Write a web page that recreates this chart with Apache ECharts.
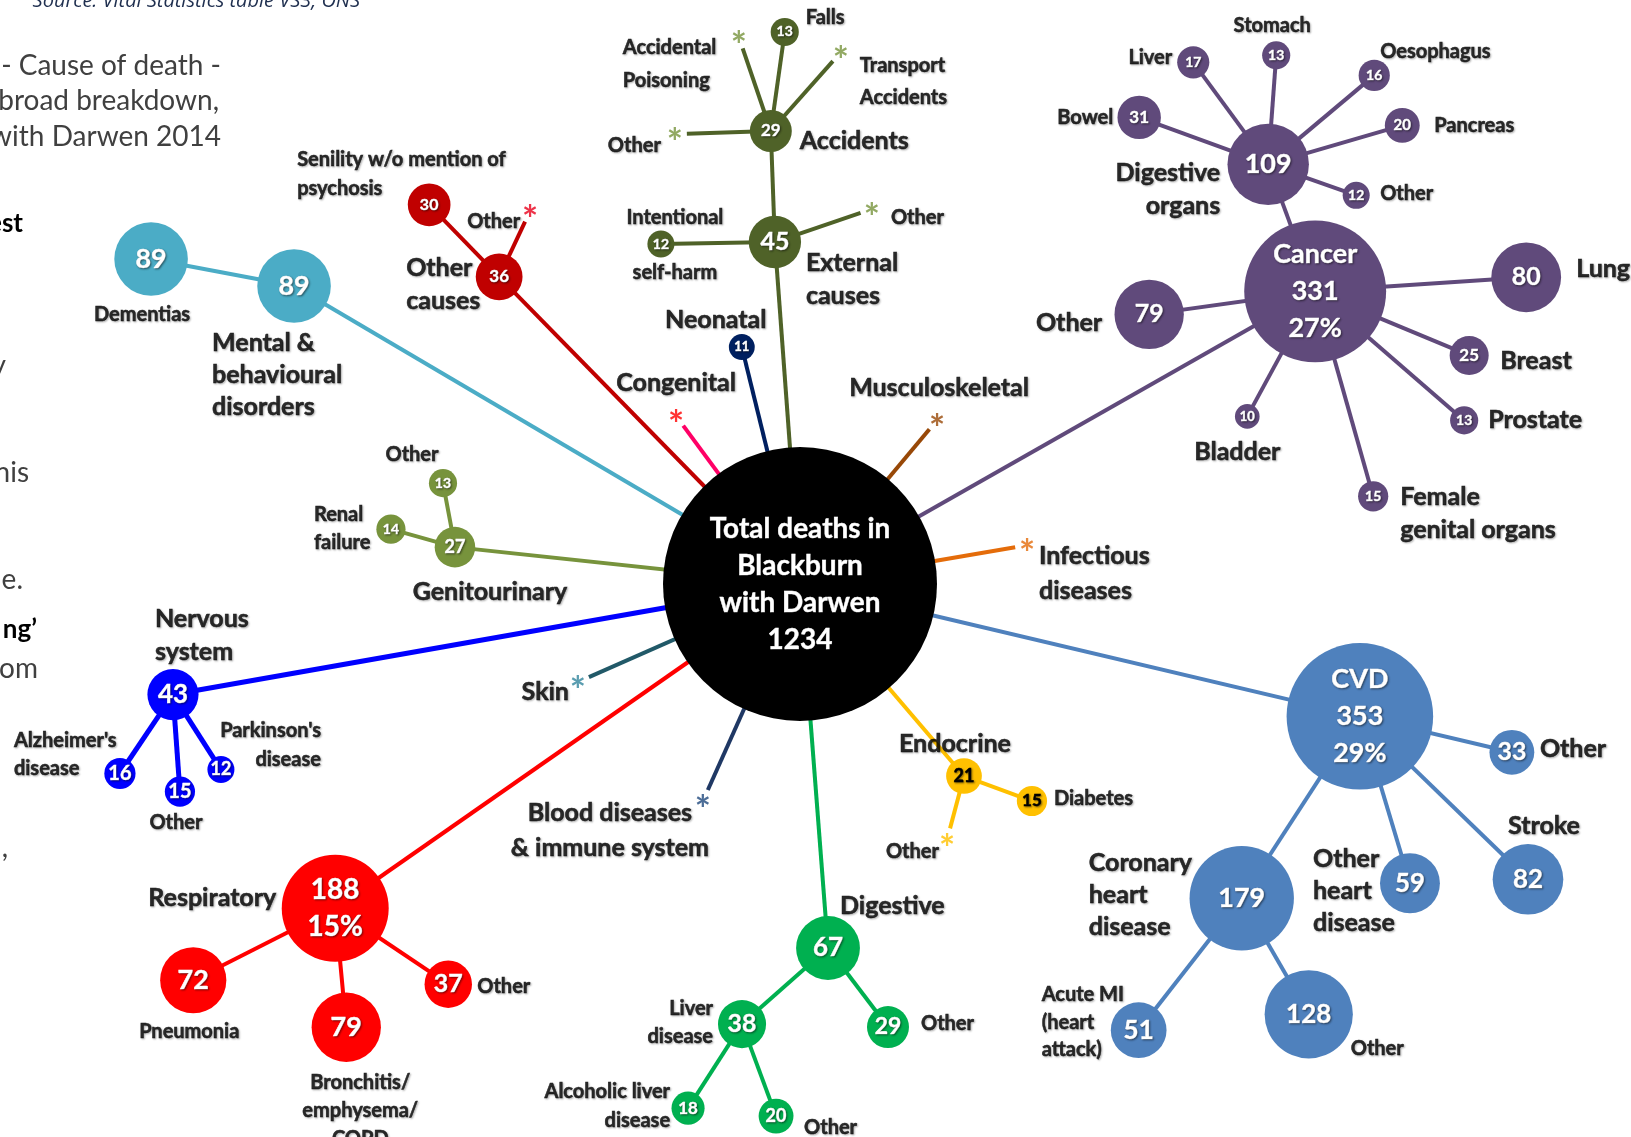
<!DOCTYPE html>
<html><head><meta charset="utf-8">
<script src="https://cdn.jsdelivr.net/npm/echarts@6/dist/echarts.min.js"></script>
<style>html,body{margin:0;padding:0;background:#fff}#c{width:1631px;height:1137px}</style>
</head><body><div id="c"></div>
<script>
// ---------------- DATA ----------------
const nodeIds = ['total','cancer','cDig','cBowel','cLiver','cStomach','cOeso','cPanc','cDigOther','cLung','cOther','cBreast','cProstate','cFemale','cBladder',
  'cvd','cvdOther','stroke','otherHeart','chd','ami','chdOther',
  'resp','pneu','bronch','respOther',
  'dig','liverDis','digOther','alc','liverOther',
  'endo','diabetes','endoOther',
  'nerv','alz','nervOther','park',
  'genito','renal','genOther',
  'mental','dementia',
  'othCauses','senility','othCausesOther',
  'ext','selfHarm','extOther','accidents','accOther','accPoison','falls','transport',
  'neonatal','congenital','musculo','infectious','skin','blood'];
const nodeNames = ['Total deaths in\nBlackburn\nwith Darwen','Cancer','Digestive\norgans','Bowel','Liver','Stomach','Oesophagus','Pancreas','Other','Lung','Other','Breast','Prostate','Female\ngenital organs','Bladder',
  'CVD','Other','Stroke','Other\nheart\ndisease','Coronary\nheart\ndisease','Acute MI\n(heart\nattack)','Other',
  'Respiratory','Pneumonia','Bronchitis/\nemphysema/\nCOPD','Other',
  'Digestive','Liver\ndisease','Other','Alcoholic liver\ndisease','Other',
  'Endocrine','Diabetes','Other',
  'Nervous\nsystem',"Alzheimer's\ndisease",'Other',"Parkinson's\ndisease",
  'Genitourinary','Renal\nfailure','Other',
  'Mental &\nbehavioural\ndisorders','Dementias',
  'Other\ncauses','Senility w/o mention of\npsychosis','Other',
  'External\ncauses','Intentional\nself-harm','Other','Accidents','Other','Accidental\nPoisoning','Falls','Transport\nAccidents',
  'Neonatal','Congenital','Musculoskeletal','Infectious\ndiseases','Skin','Blood diseases\n& immune system'];
// null = suppressed small number (shown as *)
const nodeValues = [1234,331,109,31,17,13,16,20,12,80,79,25,13,15,10,
  353,33,82,59,179,51,128,
  188,72,79,37,
  67,38,29,18,20,
  21,15,null,
  43,16,15,12,
  27,14,13,
  89,89,
  36,30,null,
  45,12,null,29,null,null,13,null,
  11,null,null,null,null,null];
const nodeParents = [null,'total','cancer','cDig','cDig','cDig','cDig','cDig','cDig','cancer','cancer','cancer','cancer','cancer','cancer',
  'total','cvd','cvd','cvd','cvd','chd','chd',
  'total','resp','resp','resp',
  'total','dig','dig','liverDis','liverDis',
  'total','endo','endo',
  'total','nerv','nerv','nerv',
  'total','genito','genito',
  'total','mental',
  'total','othCauses','othCauses',
  'total','ext','ext','ext','accidents','accidents','accidents','accidents',
  'total','total','total','total','total','total'];
const nameInside = ['total','cancer','cvd'];
const pctShown = ['cancer','cvd','resp'];

// ---------------- LAYOUT / STYLE ----------------
const W = 1631, H = 1137;
const origin = [800, 584];
const SIZE_K = 7.8; // symbol diameter = SIZE_K * sqrt(value)
const BIG = 25, SMALL = 20;
// id: [angle from parent (deg), distance (px), labelDx, labelDy, align, nameFont, valueFont, lineHeight]
const layout = {
  total:[0,0,0,0,'center',0,28,37],
  cancer:[29.6,592.5,0,0,'center',0,27,37],
  cDig:[110.3,135.4,-48,25,'right',BIG,27,33],
  cBowel:[160.0,137.3,-26,0,'right',SMALL,17],
  cLiver:[126.3,126.6,-21,-5,'right',SMALL,14],
  cStomach:[85.8,109.3,-4,-30,'center',SMALL,14],
  cOeso:[40.0,138.4,6,-24,'left',SMALL,14],
  cPanc:[16.2,139.6,32,0,'left',SMALL,15],
  cDigOther:[-19.4,93.3,24,-2,'left',SMALL,14],
  cLung:[3.8,211.5,50,-8,'left',BIG,25],
  cOther:[-172.1,167.6,-47,9,'right',BIG,25],
  cBreast:[-22.6,166.8,31,5,'left',BIG,17],
  cProstate:[-40.9,197.1,24,0,'left',BIG,14],
  cFemale:[-74.2,213.0,27,17,'left',BIG,14,33],
  cBladder:[-118.5,142.3,-10,36,'center',BIG,13],
  cvd:[-13.3,575.3,0,0,'center',0,27,37],
  cvdOther:[-13.3,156.2,28,-3,'left',BIG,25],
  stroke:[-44.1,234.1,16,-53,'center',BIG,26],
  otherHeart:[-73.3,174.3,-97,8,'left',BIG,26,32],
  chd:[-123.0,216.9,-153,-3,'left',BIG,27,32],
  ami:[-128.0,167.4,-97,-8,'left',SMALL,26,27.5],
  chdOther:[-60.0,134.0,42,34,'left',SMALL,26],
  resp:[-145.1,566.7,-59,-10,'right',BIG,28,37],
  pneu:[-153.1,159.2,-4,51,'center',SMALL,27],
  bronch:[-84.7,119.5,14,83,'center',SMALL,27,28],
  respOther:[-33.9,136.2,29,2,'left',SMALL,25],
  dig:[-85.6,365.1,12,-42,'left',BIG,26],
  liverDis:[-138.5,114.8,-29,-2,'right',SMALL,25,28],
  digOther:[-52.8,99.2,33,-3,'left',SMALL,23],
  alc:[-122.7,99.9,-18,-2,'right',SMALL,17,29],
  liverOther:[-69.7,98.1,28,11,'left',SMALL,18],
  endo:[-49.5,252.5,-9,-32,'center',BIG,18],
  diabetes:[-20.2,72.4,22,-2,'left',SMALL,17],
  endoOther:[-104.9,66.2,-8,12,'right',SMALL],
  nerv:[-170.0,636.7,-18,-59,'left',BIG,26,33],
  alz:[-123.9,95.1,-106,-19,'left',SMALL,20,28],
  nervOther:[-85.9,97.3,-4,31,'center',SMALL,20],
  park:[-57.4,89.0,100,-24,'right',SMALL,18,29],
  genito:[173.9,347.0,35,45,'center',BIG,18],
  renal:[164.3,66.5,-77,-1,'left',SMALL,14,28],
  genOther:[100.6,65.1,-31,-29,'center',SMALL,14],
  mental:[149.5,587.2,-82,89,'left',BIG,27,32],
  dementia:[169.3,145.5,-9,56,'center',SMALL,27],
  othCauses:[134.4,430.0,-93,8,'left',BIG,17,33],
  senility:[134.2,100.4,-132,-31,'left',SMALL,16,29],
  othCausesOther:[64.8,72.9,-10,11,'right',SMALL],
  ext:[94.2,342.9,31,37,'left',BIG,25,33],
  selfHarm:[-179.0,114.0,14,1,'center',SMALL,14,55],
  extOther:[18.8,102.5,19,9,'left',SMALL],
  accidents:[92.1,111.1,29,10,'left',BIG,17],
  accOther:[-178.2,96.0,-14,12,'right',SMALL],
  accPoison:[108.8,99.3,-116,27,'left',SMALL,0,33],
  falls:[82.0,100.0,21,-14,'left',SMALL,14],
  transport:[48.4,105.5,19,29,'left',SMALL,0,32],
  neonatal:[103.8,244.0,-26,-27,'center',BIG,13],
  congenital:[126.4,208.8,0,-33,'center',BIG],
  musculo:[50.1,213.7,2,-32,'center',BIG],
  infectious:[9.7,230.3,12,28,'left',BIG,0,35],
  skin:[-156.2,242.7,-9,10,'right',BIG],
  blood:[-114.1,237.7,-93,29,'center',BIG,0,35]
};
const groupColor = {total:'#000000',cancer:'#604a7b',cvd:'#4f81bd',resp:'#ff0000',dig:'#00b050',endo:'#ffc000',nerv:'#0000ff',
  genito:'#77933c',mental:'#4bacc6',othCauses:'#c00000',ext:'#4f6228',neonatal:'#002060',congenital:'#ff0066',
  musculo:'#984807',infectious:'#e46c0a',skin:'#215968',blood:'#1f3864'};
const starColor = {othCauses:'#e8001c',ext:'#77933c',endo:'#ffc000',congenital:'#ff0000',musculo:'#984807',
  infectious:'#e46c0a',skin:'#31859c',blood:'#1f497d'};
const darkText = ['endo'];
const FONT = 'Lato, "Open Sans", sans-serif';
const STAR_GAP = 12;

// ---------------- BUILD ----------------
const idx = {}; nodeIds.forEach((id,i)=>idx[id]=i);
const pos = {total: origin};
nodeIds.forEach((id,i)=>{
  if (!nodeParents[i]) return;
  const p = pos[nodeParents[i]], L = layout[id], a = L[0]*Math.PI/180;
  pos[id] = [p[0] + L[1]*Math.cos(a), p[1] - L[1]*Math.sin(a)];
});
function topGroup(id){ let cur=id; while(nodeParents[idx[cur]] && nodeParents[idx[cur]]!=='total') cur=nodeParents[idx[cur]]; return cur; }
const total = nodeValues[0];

const edges = [], nodes = [], names = [], stars = [];
nodeIds.forEach((id,i)=>{
  const g = topGroup(id), col = groupColor[g], L = layout[id], v = nodeValues[i], P = pos[id];
  if (nodeParents[i]) {
    const p = pos[nodeParents[i]];
    let end = P;
    if (v == null) { const dx=P[0]-p[0], dy=P[1]-p[1], d=Math.hypot(dx,dy); end=[P[0]-dx/d*STAR_GAP, P[1]-dy/d*STAR_GAP]; }
    edges.push({coords:[p,end], lineStyle:{color:col, width: g==='nerv'?5:4}});
  }
  if (v != null) {
    let txt = String(v);
    if (pctShown.includes(id)) txt = txt + '\n' + Math.round(v/total*100) + '%';
    if (nameInside.includes(id)) txt = (id==='total' ? nodeNames[i]+'\n'+v : nodeNames[i]+'\n'+txt);
    const dark = darkText.includes(g);
    nodes.push({value:P, symbolSize: SIZE_K*Math.sqrt(v), itemStyle:{color:col, opacity:1},
      label:{show:true, position:'inside', formatter: txt, color: dark?'#000':'#fff',
        fontSize:L[6], fontWeight:'bold', fontFamily:FONT, lineHeight:L[7]||L[6]*1.2,
        textBorderColor: dark?'#000':'#fff', textBorderWidth:0.5,
        textShadowColor:'rgba(0,0,0,0.45)', textShadowBlur:2, textShadowOffsetX:1, textShadowOffsetY:1}});
  } else {
    stars.push({value:P, label:{show:true, position:'inside', formatter:'*', color: starColor[g]||col,
      fontSize:38, fontWeight:'bold', fontFamily:FONT, offset:[0,10]}});
  }
  if (!nameInside.includes(id)) {
    names.push({value:P, label:{show:true, position:'inside', formatter: nodeNames[i], offset:[L[2],L[3]],
      align:L[4], verticalAlign:'middle', fontSize:L[5], lineHeight:L[7]||Math.round(L[5]*1.4),
      fontWeight:'bold', fontFamily:FONT, color:'#000', textBorderColor:'#000', textBorderWidth:0.5,
      textShadowColor:'rgba(0,0,0,0.35)', textShadowBlur:2, textShadowOffsetX:1, textShadowOffsetY:1}});
  }
});

const chart = echarts.init(document.getElementById('c'), null, {renderer:'canvas'});
const TF = '28px Lato, sans-serif', TB = 'bold 26px Lato, sans-serif';
chart.setOption({
  animation:false,
  backgroundColor:'#ffffff',
  grid:{left:0,right:0,top:0,bottom:0},
  xAxis:{type:'value',min:0,max:W,show:false},
  yAxis:{type:'value',min:0,max:H,inverse:true,show:false},
  graphic:[
    {type:'text',x:360,y:1,style:{text:'Source: Vital Statistics table VS3, ONS',fill:'#1f2f4f',font:'italic 20px "Open Sans", sans-serif',align:'right',verticalAlign:'middle'}},
    {type:'text',x:221,y:66,style:{text:'- Cause of death -',fill:'#404040',font:TF,align:'right',verticalAlign:'middle'}},
    {type:'text',x:219,y:101,style:{text:'broad breakdown,',fill:'#404040',font:TF,align:'right',verticalAlign:'middle'}},
    {type:'text',x:221,y:137,style:{text:'with Darwen 2014',fill:'#404040',font:TF,align:'right',verticalAlign:'middle'}},
    {type:'text',x:23,y:224,style:{text:'est',fill:'#000',font:TB,align:'right',verticalAlign:'middle'}},
    {type:'text',x:6,y:366,style:{text:'y',fill:'#404040',font:TF,align:'right',verticalAlign:'middle'}},
    {type:'text',x:29,y:473,style:{text:'his',fill:'#404040',font:TF,align:'right',verticalAlign:'middle'}},
    {type:'text',x:23,y:580,style:{text:'e.',fill:'#404040',font:TF,align:'right',verticalAlign:'middle'}},
    {type:'text',x:37,y:630,style:{text:'ng\u2019',fill:'#000',font:TB,align:'right',verticalAlign:'middle'}},
    {type:'text',x:38,y:669,style:{text:'om',fill:'#404040',font:TF,align:'right',verticalAlign:'middle'}},
    {type:'text',x:8,y:848,style:{text:',',fill:'#404040',font:TF,align:'right',verticalAlign:'middle'}}
  ],
  series:[
    {type:'lines',coordinateSystem:'cartesian2d',silent:true,z:1,lineStyle:{opacity:1,curveness:0},data:edges},
    {type:'scatter',silent:true,z:3,symbol:'circle',itemStyle:{opacity:1},data:nodes},
    {type:'scatter',silent:true,z:4,symbol:'circle',symbolSize:1,itemStyle:{color:'rgba(0,0,0,0)'},data:stars},
    {type:'scatter',silent:true,z:5,symbol:'circle',symbolSize:1,itemStyle:{color:'rgba(0,0,0,0)'},data:names}
  ]
});
</script></body></html>
